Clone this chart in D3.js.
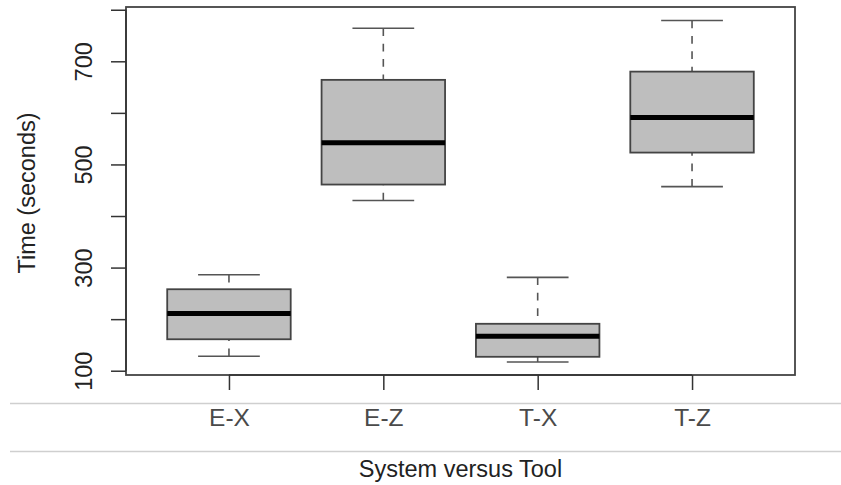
<!DOCTYPE html>
<html>
<head>
<meta charset="utf-8">
<script src="https://cdn.jsdelivr.net/npm/d3@7"></script>
<style>
  body { margin: 0; background: #fff; }
  svg text { font-family: "Liberation Sans", Arial, Helvetica, sans-serif; }
</style>
</head>
<body>
<div id="chart"></div>
<script>
// groups on the x axis
var categories = ["E-X", "E-Z", "T-X", "T-Z"];

// five number summaries (seconds)
var whiskerLow  = [128, 430, 117, 457];
var quartileLow = [161, 461, 127, 523];
var medians     = [211, 542, 167, 591];
var quartileHigh = [258, 664, 191, 680];
var whiskerHigh = [286, 764, 281, 779];

var yTicks = [100, 200, 300, 400, 500, 600, 700, 800];
var yLabelled = [100, 300, 500, 700];

var xTitle = "System versus Tool";
var yTitle = "Time (seconds)";

(function(){

  var width = 841, height = 485;
  var plot = {left: 126, right: 795, top: 7, bottom: 375};

  var svg = d3.select("#chart").append("svg")
              .attr("width", width)
              .attr("height", height);

  var x = d3.scalePoint()
            .domain(categories)
            .range([plot.left, plot.right])
            .padding(0.667);

  var y = d3.scaleLinear()
            .domain([91.7, 805.3])
            .range([plot.bottom, plot.top]);

  var boxW = x.step() * 0.8;
  var capW = boxW / 2;

  var data = categories.map(function(c, i) {
    return {cat: c, lo: whiskerLow[i], q1: quartileLow[i], med: medians[i],
            q3: quartileHigh[i], hi: whiskerHigh[i]};
  });

  // page rules under the plot
  [403.5, 451.5].forEach(function(ly) {
    svg.append("line")
       .attr("x1", 10).attr("x2", width)
       .attr("y1", ly).attr("y2", ly)
       .attr("stroke", "#cfcfcf")
       .attr("stroke-width", 1.5);
  });

  var g = svg.append("g");

  var boxes = g.selectAll(".box")
               .data(data)
               .enter().append("g")
               .attr("class", "box")
               .attr("transform", function(d){ return "translate(" + x(d.cat) + ",0)"; });

  // dashed whiskers, drawn from the extremes to the box
  boxes.append("line")
       .attr("x1", 0).attr("x2", 0)
       .attr("y1", function(d){ return y(d.lo); })
       .attr("y2", function(d){ return y(d.q1); })
       .attr("stroke", "#555").attr("stroke-width", 1.6)
       .attr("stroke-dasharray", "7.7,7.7");
  boxes.append("line")
       .attr("x1", 0).attr("x2", 0)
       .attr("y1", function(d){ return y(d.hi); })
       .attr("y2", function(d){ return y(d.q3); })
       .attr("stroke", "#555").attr("stroke-width", 1.6)
       .attr("stroke-dasharray", "7.7,7.7");

  // caps
  ["lo", "hi"].forEach(function(k) {
    boxes.append("line")
         .attr("x1", -capW / 2).attr("x2", capW / 2)
         .attr("y1", function(d){ return y(d[k]); })
         .attr("y2", function(d){ return y(d[k]); })
         .attr("stroke", "#555").attr("stroke-width", 1.6);
  });

  boxes.append("rect")
       .attr("x", -boxW / 2)
       .attr("width", boxW)
       .attr("y", function(d){ return y(d.q3); })
       .attr("height", function(d){ return y(d.q1) - y(d.q3); })
       .attr("fill", "#bebebe")
       .attr("stroke", "#444")
       .attr("stroke-width", 1.8);

  boxes.append("line")
       .attr("x1", -boxW / 2).attr("x2", boxW / 2)
       .attr("y1", function(d){ return y(d.med); })
       .attr("y2", function(d){ return y(d.med); })
       .attr("stroke", "#000")
       .attr("stroke-width", 5);

  // frame
  svg.append("rect")
     .attr("x", plot.left).attr("y", plot.top)
     .attr("width", plot.right - plot.left)
     .attr("height", plot.bottom - plot.top)
     .attr("fill", "none")
     .attr("stroke", "#444")
     .attr("stroke-width", 1.8);

  // y axis
  var yAxis = svg.append("g")
     .attr("transform", "translate(" + plot.left + ",0)")
     .call(d3.axisLeft(y)
             .tickValues(yTicks)
             .tickSize(15)
             .tickSizeOuter(0)
             .tickFormat(function(v){ return yLabelled.indexOf(v) >= 0 ? v : ""; }));
  yAxis.select(".domain")
       .attr("d", "M0," + y(yTicks[0]) + "V" + y(yTicks[yTicks.length - 1]))
       .attr("stroke", "#333").attr("stroke-width", 1.5);
  yAxis.selectAll(".tick line").attr("stroke", "#333").attr("stroke-width", 1.5);
  yAxis.selectAll(".tick text")
       .attr("transform", "rotate(-90)")
       .attr("x", 0).attr("y", -34).attr("dy", 0)
       .attr("text-anchor", "middle")
       .attr("font-size", 23.5)
       .attr("fill", "#222");

  // x axis
  var xAxis = svg.append("g")
     .attr("transform", "translate(0," + plot.bottom + ")")
     .call(d3.axisBottom(x).tickSize(15).tickSizeOuter(0));
  xAxis.select(".domain")
       .attr("d", "M" + x(categories[0]) + ",0H" + x(categories[categories.length - 1]))
       .attr("stroke", "#333").attr("stroke-width", 1.5);
  xAxis.selectAll(".tick line").attr("stroke", "#333").attr("stroke-width", 1.5);
  xAxis.selectAll(".tick text")
       .attr("y", 50.5).attr("dy", 0)
       .attr("font-size", 24.5)
       .attr("fill", "#4a4a4a");

  // titles
  svg.append("text")
     .attr("x", (plot.left + plot.right) / 2)
     .attr("y", 476.5)
     .attr("text-anchor", "middle")
     .attr("font-size", 23.5)
     .attr("fill", "#222")
     .text(xTitle);

  svg.append("text")
     .attr("text-anchor", "middle")
     .attr("transform", "translate(35," + ((plot.top + plot.bottom) / 2 + 2) + ")rotate(-90)")
     .attr("font-size", 23.5)
     .attr("fill", "#222")
     .text(yTitle);

})();
</script>
</body>
</html>
